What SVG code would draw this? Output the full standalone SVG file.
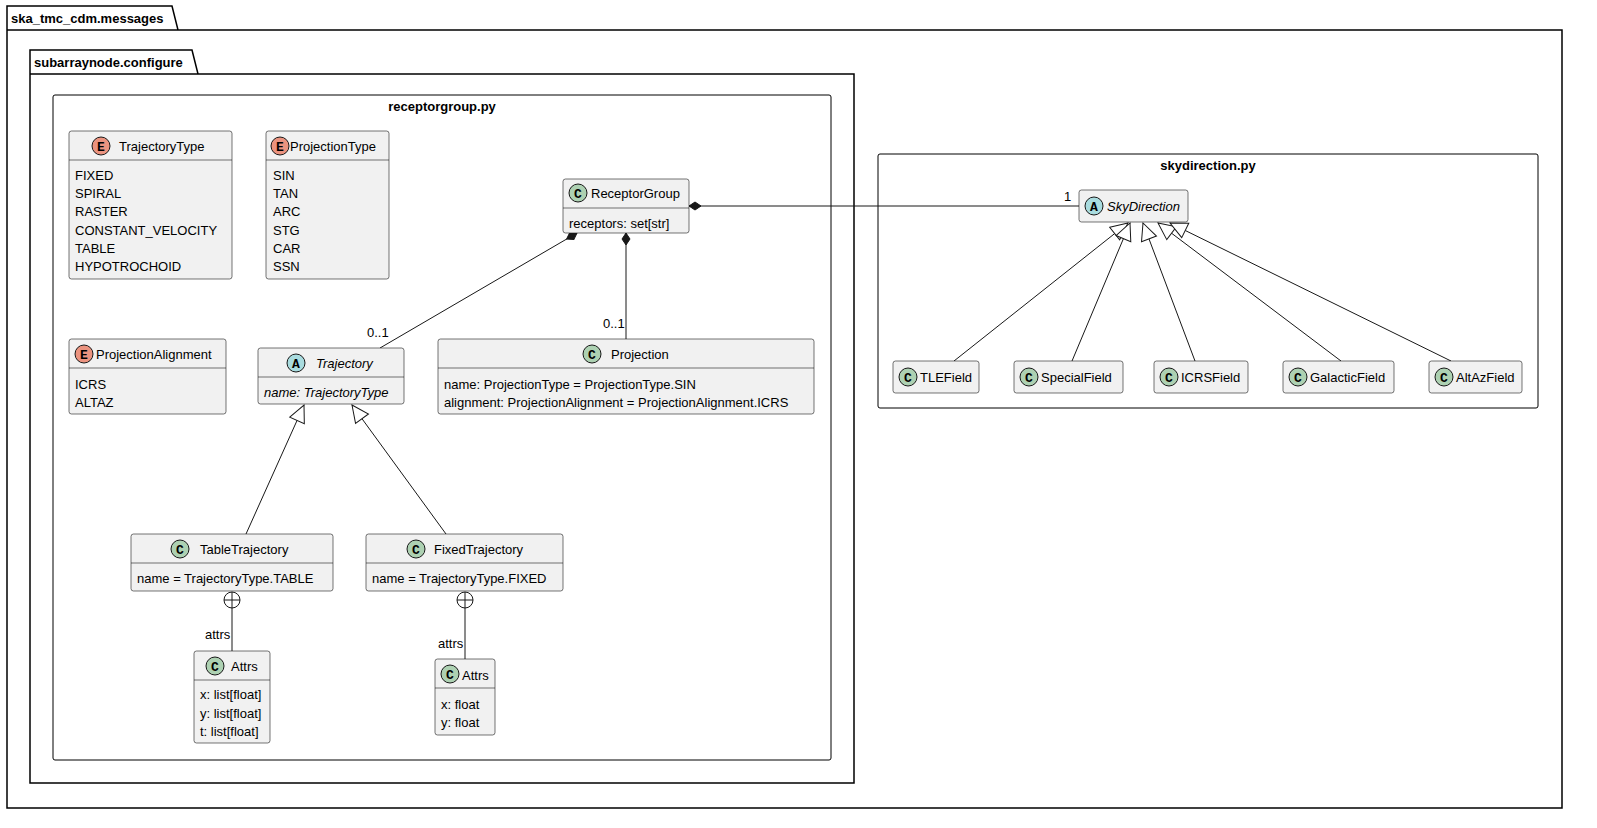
<svg xmlns="http://www.w3.org/2000/svg" width="1597" height="828" viewBox="0 0 1597 828">
<style>
text{font-family:"Liberation Sans",Arial,sans-serif;font-size:13px;fill:#000}
.pk{fill:none;stroke:#000;stroke-width:1.5}
.b{font-weight:bold}
.cls{fill:#F1F1F1;stroke:#181818;stroke-width:0.6}
.sep{stroke:#181818;stroke-width:0.6}
.ln{stroke:#181818;stroke-width:1;fill:none}
.ic{stroke:#181818;stroke-width:1}
.icc{font-family:"Liberation Mono",monospace;font-weight:bold;font-size:13px;text-anchor:middle}
.i{font-style:italic}
.m{text-anchor:middle}
</style>
<defs>
<marker id="tri" viewBox="0 0 20 20" refX="18" refY="10" markerWidth="20" markerHeight="20" markerUnits="userSpaceOnUse" orient="auto"><path d="M1,2 L18,10 L1,18 Z" fill="#fff" stroke="#181818"/></marker>
<marker id="dia" viewBox="0 0 24 12" refX="1" refY="6" markerWidth="24" markerHeight="12" markerUnits="userSpaceOnUse" orient="auto"><path d="M1,6 L7,2 L13,6 L7,10 Z" fill="#181818" stroke="#181818"/></marker>
</defs>
<rect width="1597" height="828" fill="#fff"/>
<g id="pkg-messages"><path class="pk" d="M7,30 V6 H172 L178,30 H1562 V808 H7 Z M7,30 H178"/><text class="b" x="11" y="23">ska_tmc_cdm.messages</text></g>
<g id="pkg-configure"><path class="pk" d="M30,74 V50 H192 L198,74 H854 V783 H30 Z M30,74 H198"/><text class="b" x="34" y="67">subarraynode.configure</text></g>
<g id="file-receptorgroup"><rect x="53" y="95" width="778" height="665" rx="2" fill="none" stroke="#000"/><text class="b m" x="442" y="111">receptorgroup.py</text></g>
<g id="file-skydirection"><rect x="878" y="154" width="660" height="254" rx="2" fill="none" stroke="#000"/><text class="b m" x="1208" y="170">skydirection.py</text></g>

<g id="connectors">
<line class="ln" x1="689" y1="206" x2="1079" y2="206" marker-start="url(#dia)"/>
<text x="1064" y="201">1</text>
<line class="ln" x1="577" y1="233" x2="380" y2="348" marker-start="url(#dia)"/>
<text x="367" y="337">0..1</text>
<line class="ln" x1="626" y1="233" x2="626" y2="339" marker-start="url(#dia)"/>
<text x="603" y="328">0..1</text>
<line class="ln" x1="246" y1="534" x2="304" y2="405" marker-end="url(#tri)"/>
<line class="ln" x1="446" y1="534" x2="352" y2="405" marker-end="url(#tri)"/>
<line class="ln" x1="954" y1="361" x2="1128" y2="223" marker-end="url(#tri)"/>
<line class="ln" x1="1072" y1="361" x2="1130" y2="223" marker-end="url(#tri)"/>
<line class="ln" x1="1195" y1="361" x2="1143" y2="223" marker-end="url(#tri)"/>
<line class="ln" x1="1341" y1="361" x2="1158" y2="223" marker-end="url(#tri)"/>
<line class="ln" x1="1451" y1="361" x2="1170" y2="223" marker-end="url(#tri)"/>
<circle cx="232" cy="600" r="8" fill="#fff" stroke="#181818"/><path class="ln" d="M224,600 H240 M232,592 V651"/>
<text x="205" y="639">attrs</text>
<circle cx="465" cy="600" r="8" fill="#fff" stroke="#181818"/><path class="ln" d="M457,600 H473 M465,592 V659"/>
<text x="438" y="648">attrs</text>
</g>

<g id="TrajectoryType"><rect class="cls" x="69" y="131" width="163" height="148" rx="2.5"/><line class="sep" x1="69" y1="160" x2="232" y2="160"/>
<circle class="ic" cx="101" cy="146" r="9" fill="#EB937F"/><text class="icc" x="101" y="150.5">E</text><text x="119" y="151">TrajectoryType</text>
<text x="75" y="180">FIXED</text><text x="75" y="198">SPIRAL</text><text x="75" y="216">RASTER</text><text x="75" y="235">CONSTANT_VELOCITY</text><text x="75" y="253">TABLE</text><text x="75" y="271">HYPOTROCHOID</text></g>

<g id="ProjectionType"><rect class="cls" x="266" y="131" width="123" height="148" rx="2.5"/><line class="sep" x1="266" y1="160" x2="389" y2="160"/>
<circle class="ic" cx="280" cy="146" r="9" fill="#EB937F"/><text class="icc" x="280" y="150.5">E</text><text x="290" y="151">ProjectionType</text>
<text x="273" y="180">SIN</text><text x="273" y="198">TAN</text><text x="273" y="216">ARC</text><text x="273" y="235">STG</text><text x="273" y="253">CAR</text><text x="273" y="271">SSN</text></g>

<g id="ProjectionAlignment"><rect class="cls" x="69" y="339" width="157" height="75" rx="2.5"/><line class="sep" x1="69" y1="368" x2="226" y2="368"/>
<circle class="ic" cx="84" cy="354" r="9" fill="#EB937F"/><text class="icc" x="84" y="358.5">E</text><text x="96" y="359">ProjectionAlignment</text>
<text x="75" y="389">ICRS</text><text x="75" y="407">ALTAZ</text></g>

<g id="ReceptorGroup"><rect class="cls" x="563" y="179" width="126" height="54" rx="2.5"/><line class="sep" x1="563" y1="208" x2="689" y2="208"/>
<circle class="ic" cx="578" cy="193" r="9" fill="#ADD1B2"/><text class="icc" x="578" y="197.5">C</text><text x="591" y="198">ReceptorGroup</text>
<text x="569" y="228">receptors: set[str]</text></g>

<g id="Trajectory"><rect class="cls" x="258" y="348" width="146" height="56" rx="2.5"/><line class="sep" x1="258" y1="377" x2="404" y2="377"/>
<circle class="ic" cx="296" cy="363" r="9" fill="#A9DCDF"/><text class="icc" x="296" y="367.5">A</text><text class="i" x="316" y="368">Trajectory</text>
<text class="i" x="264" y="397">name: TrajectoryType</text></g>

<g id="Projection"><rect class="cls" x="438" y="339" width="376" height="75" rx="2.5"/><line class="sep" x1="438" y1="368" x2="814" y2="368"/>
<circle class="ic" cx="592" cy="354" r="9" fill="#ADD1B2"/><text class="icc" x="592" y="358.5">C</text><text x="611" y="359">Projection</text>
<text x="444" y="389">name: ProjectionType = ProjectionType.SIN</text><text x="444" y="407">alignment: ProjectionAlignment = ProjectionAlignment.ICRS</text></g>

<g id="TableTrajectory"><rect class="cls" x="131" y="534" width="202" height="57" rx="2.5"/><line class="sep" x1="131" y1="563" x2="333" y2="563"/>
<circle class="ic" cx="180" cy="549" r="9" fill="#ADD1B2"/><text class="icc" x="180" y="553.5">C</text><text x="200" y="554">TableTrajectory</text>
<text x="137" y="583">name = TrajectoryType.TABLE</text></g>

<g id="FixedTrajectory"><rect class="cls" x="366" y="534" width="197" height="57" rx="2.5"/><line class="sep" x1="366" y1="563" x2="563" y2="563"/>
<circle class="ic" cx="416" cy="549" r="9" fill="#ADD1B2"/><text class="icc" x="416" y="553.5">C</text><text x="434" y="554">FixedTrajectory</text>
<text x="372" y="583">name = TrajectoryType.FIXED</text></g>

<g id="TableTrajectory.Attrs"><rect class="cls" x="194" y="651" width="76" height="92" rx="2.5"/><line class="sep" x1="194" y1="680" x2="270" y2="680"/>
<circle class="ic" cx="215" cy="666" r="9" fill="#ADD1B2"/><text class="icc" x="215" y="670.5">C</text><text x="231" y="671">Attrs</text>
<text x="200" y="699">x: list[float]</text><text x="200" y="718">y: list[float]</text><text x="200" y="736">t: list[float]</text></g>

<g id="FixedTrajectory.Attrs"><rect class="cls" x="435" y="659" width="60" height="76" rx="2.5"/><line class="sep" x1="435" y1="688" x2="495" y2="688"/>
<circle class="ic" cx="450" cy="674" r="9" fill="#ADD1B2"/><text class="icc" x="450" y="678.5">C</text><text x="462" y="680">Attrs</text>
<text x="441" y="709">x: float</text><text x="441" y="727">y: float</text></g>

<g id="SkyDirection"><rect class="cls" x="1079" y="190" width="109" height="32" rx="2.5"/>
<circle class="ic" cx="1094" cy="206" r="9" fill="#A9DCDF"/><text class="icc" x="1094" y="210.5">A</text><text class="i" x="1107" y="211">SkyDirection</text></g>

<g id="TLEField"><rect class="cls" x="893" y="361" width="86" height="32" rx="2.5"/><circle class="ic" cx="908" cy="377" r="9" fill="#ADD1B2"/><text class="icc" x="908" y="381.5">C</text><text x="920" y="382">TLEField</text></g>
<g id="SpecialField"><rect class="cls" x="1014" y="361" width="109" height="32" rx="2.5"/><circle class="ic" cx="1029" cy="377" r="9" fill="#ADD1B2"/><text class="icc" x="1029" y="381.5">C</text><text x="1041" y="382">SpecialField</text></g>
<g id="ICRSField"><rect class="cls" x="1154" y="361" width="94" height="32" rx="2.5"/><circle class="ic" cx="1169" cy="377" r="9" fill="#ADD1B2"/><text class="icc" x="1169" y="381.5">C</text><text x="1181" y="382">ICRSField</text></g>
<g id="GalacticField"><rect class="cls" x="1283" y="361" width="111" height="32" rx="2.5"/><circle class="ic" cx="1298" cy="377" r="9" fill="#ADD1B2"/><text class="icc" x="1298" y="381.5">C</text><text x="1310" y="382">GalacticField</text></g>
<g id="AltAzField"><rect class="cls" x="1429" y="361" width="93" height="32" rx="2.5"/><circle class="ic" cx="1444" cy="377" r="9" fill="#ADD1B2"/><text class="icc" x="1444" y="381.5">C</text><text x="1456" y="382">AltAzField</text></g>
</svg>
